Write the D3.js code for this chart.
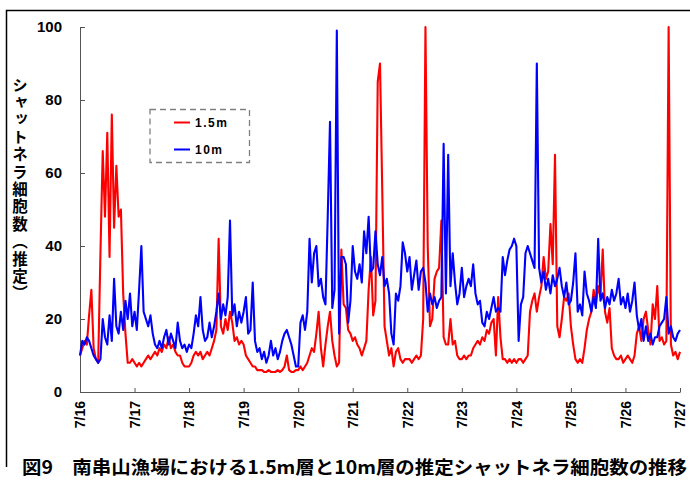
<!DOCTYPE html>
<html><head><meta charset="utf-8">
<script src="https://cdn.jsdelivr.net/npm/d3@7"></script>
<style>
html,body{margin:0;padding:0;background:#fff;}
svg{display:block;}
</style></head>
<body>
<script>
// Hourly values from 7/16 0:00 to 7/27 0:00
const dayLabels = ["7/16","7/17","7/18","7/19","7/20","7/21","7/22","7/23","7/24","7/25","7/26","7/27"];
const yTicks = [0,20,40,60,80,100];
const seriesNames = ["1.5m","10m"];
const red15m = [
  10,12,14,13,21,28,12,9,8,38,66,48,71,37,76,45,62,48,50,27,16,8,8,9,
  8,7,8,7,8,9,10,9,10,11,10,12,11,13,12,15,12,13,11,10,10,8,7,7,
  7,8,10,11,10,11,9,10,11,10,12,14,17,42,18,16,20,17,22,19,14,15,13,14,
  13,10,9,8,7,7,6,6,6,5.5,5.5,6,5.5,5.5,5.5,6,5.5,6,7,10,6,5.5,5.5,6,
  6,7,6,7,8,10,12,11,16,22,12,7,13,18,22,14,10,7,8,39,24,23,17,16,
  14,15,13,12,10,12,14,28,37,21,25,85,90,55,18,14,10,12,7,11,12,9,8,9,
  9,9,8,9,10,9,10,20,100,40,18,20,31,33,34,47,15,13,13,20,13,14,10,9,
  9,10,9,10,10,12,13,14,13,15,14,17,16,19,20,10,26,15,9,9,8,9,8,9,
  8,9,9,8,9,10,22,25,27,22,26,29,37,31,33,46,35,65,18,15,20,26,25,27,
  18,13,9,8,9,8,12,17,20,22,28,24,29,26,39,22,19,23,12,10,9,9,10,8,
  9,10,9,8,10,16,18,14,20,22,17,13,24,20,29,14,15,13,14,100,13,10,11,9,11
];
const blue10m = [
  10,14,13,15,14,12,10,9,8,9,20,15,13,21,14,31,18,16,22,17,25,20,27,18,
  22,17,28,40,22,20,18,21,16,13,12,14,12,15,17,13,16,14,12,19,14,12,13,11,
  13,12,16,21,18,26,17,14,15,19,15,18,22,27,20,24,21,26,47,21,24,18,22,19,
  22,26,16,17,30,14,11,12,9,11,8,10,14,10,12,9,11,14,16,17,15,13,10,7,
  7,19,21,17,22,42,30,38,40,29,31,26,24,48,74,23,28,99,16,37,37,35,19,25,
  40,33,31,35,30,44,38,48,33,34,44,35,32,37,29,31,27,16,13,27,25,29,41,38,
  33,37,28,32,36,28,33,34,30,22,27,24,26,23,25,26,68,27,65,29,38,30,24,27,
  34,26,29,31,29,35,27,24,25,19,18,22,20,23,26,22,23,22,37,32,36,39,40,42,
  40,14,24,26,38,40,38,36,34,90,34,30,33,28,31,27,32,29,31,34,29,26,30,24,
  25,30,38,22,24,21,33,27,25,22,26,23,42,25,27,23,26,24,28,25,27,31,24,26,
  23,27,22,25,30,21,17,20,14,18,14,16,13,15,15,18,19,20,26,16,18,15,14,16,17
];
const yTitle = "シャットネラ細胞数（推定）";
const caption = "図9　南串山漁場における1.5m層と10m層の推定シャットネラ細胞数の推移";

const W = 690, H = 481;
const svg = d3.select("body").append("svg").attr("width", W).attr("height", H);
svg.append("rect").attr("width", W).attr("height", H).attr("fill", "#fff");

// outer frame
svg.append("path").attr("d", "M6.5,467 V10.5 H690").attr("fill","none").attr("stroke","#000").attr("stroke-width",1.5);

const x = d3.scaleLinear().domain([0, 264]).range([80, 680]);
const y = d3.scaleLinear().domain([0, 100]).range([392, 27]);

const axisColor = "#555";
// y axis
const yAxis = d3.axisLeft(y).tickValues(yTicks).tickSizeInner(-5).tickSizeOuter(0).tickPadding(18);
const gy = svg.append("g").attr("transform", "translate(80,0)").call(yAxis);
gy.select(".domain").attr("stroke", axisColor);
gy.selectAll(".tick line").attr("stroke", axisColor);
gy.selectAll(".tick text").attr("font-family","'Liberation Sans', Arial, sans-serif").attr("font-weight","bold").attr("font-size","15px").attr("fill","#000");

// x axis
const xAxis = d3.axisBottom(x).tickValues(d3.range(0, 265, 24)).tickFormat((d,i)=>dayLabels[i]).tickSizeInner(-4).tickSizeOuter(0);
const gx = svg.append("g").attr("transform", "translate(0,392)").call(xAxis);
gx.select(".domain").attr("stroke", axisColor);
gx.selectAll(".tick line").attr("stroke", axisColor);
gx.selectAll(".tick text")
  .attr("font-family","'Liberation Sans', Arial, sans-serif").attr("font-weight","bold").attr("font-size","14px").attr("fill","#000")
  .attr("transform","rotate(-90)").attr("text-anchor","end").attr("x",-9).attr("y",0).attr("dy","0.35em");

// lines
const line = d3.line().x((d,i)=>x(i)).y(d=>y(d));
svg.append("path").datum(red15m).attr("d", line).attr("fill","none").attr("stroke","#ff0000").attr("stroke-width",2.1).attr("stroke-linejoin","round");
svg.append("path").datum(blue10m).attr("d", line).attr("fill","none").attr("stroke","#0000ff").attr("stroke-width",2.1).attr("stroke-linejoin","round");

// legend
const lg = svg.append("g");
lg.append("rect").attr("x",150).attr("y",109.5).attr("width",99.5).attr("height",53).attr("fill","#fff")
  .attr("stroke","#808080").attr("stroke-width",1.3).attr("stroke-dasharray","6,4");
const legColors = ["#ff0000","#0000ff"];
seriesNames.forEach((n,i)=>{
  const yy = 122.5 + i*27;
  lg.append("line").attr("x1",174).attr("x2",190).attr("y1",yy).attr("y2",yy).attr("stroke",legColors[i]).attr("stroke-width",2);
  lg.append("text").attr("x",195).attr("y",yy+4.5).text(n)
    .attr("font-family","'Liberation Sans', Arial, sans-serif").attr("font-weight","bold").attr("font-size","12px").attr("letter-spacing","1.5px");
});

// y title in vertical writing
svg.append("text").attr("x",20).attr("y",77).text(yTitle)
  .attr("font-family","'Noto Sans CJK JP', sans-serif").attr("font-weight","bold").attr("font-size","15.5px")
  .attr("letter-spacing","1.9px")
  .style("writing-mode","vertical-rl");

// caption
svg.append("text").attr("x",22).attr("y",474).text(caption)
  .attr("font-family","'Noto Sans CJK JP', sans-serif").attr("font-weight","bold").attr("font-size","18px")
  .attr("textLength",665).attr("lengthAdjust","spacingAndGlyphs");
</script>
</body></html>
